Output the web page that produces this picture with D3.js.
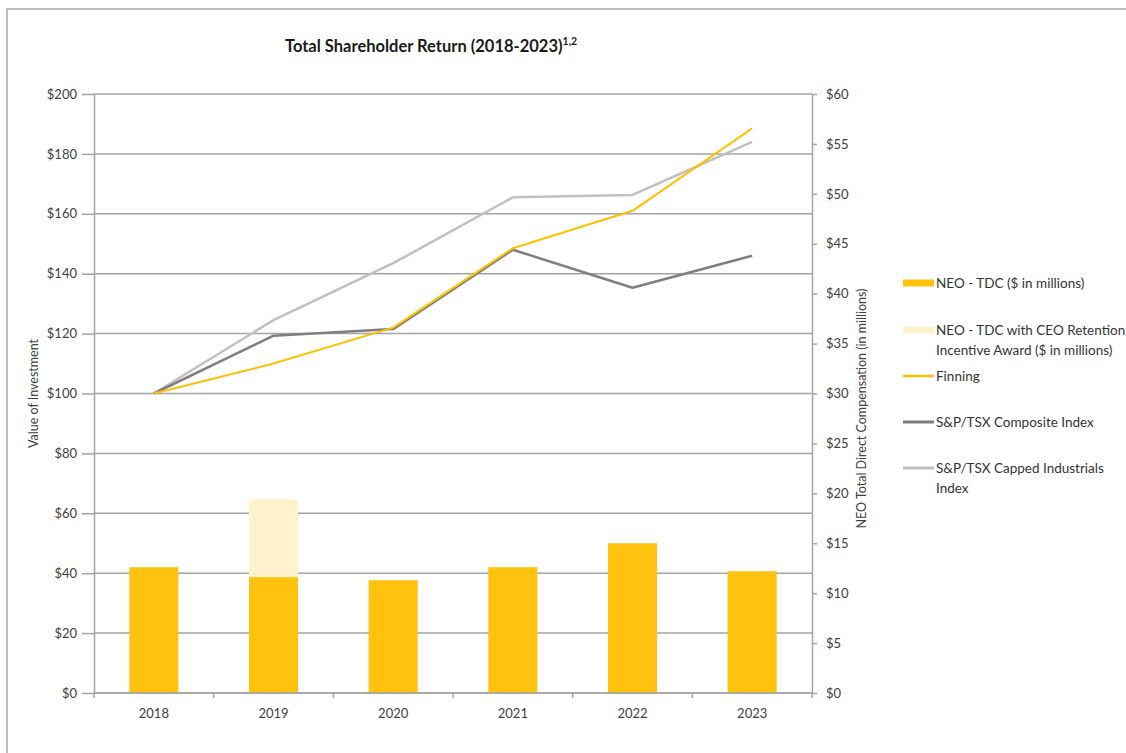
<!DOCTYPE html>
<html>
<head>
<meta charset="utf-8">
<script src="https://cdn.jsdelivr.net/npm/d3@7"></script>
<style>
  html, body { margin: 0; padding: 0; background: #fff; }
  svg { display: block; }
  text { font-family: Lato, "Open Sans", sans-serif; fill: #404040; }
</style>
</head>
<body>
<svg id="chart" width="1126" height="753"></svg>
<script>
// ---- data ----
const years = ["2018", "2019", "2020", "2021", "2022", "2023"];
const finning = [100, 110, 122, 148.5, 161, 188.5];
const composite = [100, 119.3, 121.5, 148, 135.3, 146];
const industrials = [100, 124.5, 143.5, 165.5, 166.3, 184];
const neoTdc = [12.6, 11.6, 11.3, 12.6, 15.0, 12.2];
const neoTdcRetention = [null, 19.4, null, null, null, null];
const leftTicks = [0, 20, 40, 60, 80, 100, 120, 140, 160, 180, 200];
const rightTicks = [0, 5, 10, 15, 20, 25, 30, 35, 40, 45, 50, 55, 60];
const legendLabels = [
  ["NEO - TDC ($ in millions)"],
  ["NEO - TDC with CEO Retention", "Incentive Award ($ in millions)"],
  ["Finning"],
  ["S&P/TSX Composite Index"],
  ["S&P/TSX Capped Industrials", "Index"]
];

// ---- layout ----
const svg = d3.select("#chart");
const L = 94, R = 812, T = 94, B = 693;
const gridColor = "#a3a3a3";
const barColor = "#FFC20E";
const lightBar = "#FFF2CC";
const finColor = "#FFC000";
const compColor = "#7F7F7F";
const indColor = "#C0C0C0";

// frame
svg.append("rect").attr("x", 7).attr("y", 9).attr("width", 1200).attr("height", 800)
  .attr("fill", "none").attr("stroke", "#a9a9a9").attr("stroke-width", 1.5);

const x = d3.scaleBand().domain(years).range([L, R]).paddingInner(0.59).paddingOuter(0.295);
const yL = d3.scaleLinear().domain([0, 200]).range([B, T]);
const yR = d3.scaleLinear().domain([0, 60]).range([B, T]);
const cx = d => x(d) + x.bandwidth() / 2;

// gridlines
svg.append("g").selectAll("line").data(leftTicks).join("line")
  .attr("x1", L).attr("x2", R)
  .attr("y1", d => yL(d)).attr("y2", d => yL(d))
  .attr("stroke", gridColor).attr("stroke-width", 1.5);

// bars: retention (light) first, then main
svg.append("g").selectAll("rect").data(years.map((y, i) => ({ y, v: neoTdcRetention[i] })).filter(d => d.v != null))
  .join("rect")
  .attr("x", d => x(d.y)).attr("width", x.bandwidth())
  .attr("y", d => yR(d.v)).attr("height", d => yR(0) - yR(d.v))
  .attr("fill", lightBar);

svg.append("g").selectAll("rect").data(years.map((y, i) => ({ y, v: neoTdc[i] })))
  .join("rect")
  .attr("x", d => x(d.y)).attr("width", x.bandwidth())
  .attr("y", d => yR(d.v)).attr("height", d => yR(0) - yR(d.v))
  .attr("fill", barColor);

// axes
const leftAxis = svg.append("g").attr("transform", `translate(${L},0)`)
  .call(d3.axisLeft(yL).tickValues(leftTicks).tickSize(12).tickSizeOuter(0).tickPadding(5).tickFormat(d => "$" + d));
const rightAxis = svg.append("g").attr("transform", `translate(${R},0)`)
  .call(d3.axisRight(yR).tickValues(rightTicks).tickSize(5).tickSizeOuter(0).tickPadding(9).tickFormat(d => "$" + d));
const bottomAxis = svg.append("g").attr("transform", `translate(0,${B})`)
  .call(d3.axisBottom(x).tickSize(0).tickPadding(16));

[leftAxis, rightAxis, bottomAxis].forEach(g => {
  g.selectAll("path, line").attr("stroke", gridColor).attr("stroke-width", 1.5);
  g.selectAll("text").style("font-size", "13px").style("fill", "#404040")
    .style("font-family", "Lato, 'Open Sans', sans-serif");
});
bottomAxis.select("path.domain").attr("d", `M${L},0H${R}`);

// category boundary ticks on x-axis
const bounds = years.map(y => cx(y) - x.step() / 2).concat([cx(years[years.length - 1]) + x.step() / 2]);
svg.append("g").selectAll("line").data(bounds).join("line")
  .attr("x1", d => d).attr("x2", d => d)
  .attr("y1", B).attr("y2", B + 5)
  .attr("stroke", gridColor).attr("stroke-width", 1.5);

// lines
const line = d3.line().x((d, i) => cx(years[i])).y(d => yL(d));
[[industrials, indColor, 2.5], [composite, compColor, 2.5], [finning, finColor, 2]].forEach(([data, col, w]) => {
  svg.append("path").datum(data).attr("d", line)
    .attr("fill", "none").attr("stroke", col).attr("stroke-width", w)
    .attr("stroke-linejoin", "round");
});

// titles
const title = svg.append("text").attr("x", 285).attr("y", 52)
  .style("font-size", "16.5px").style("font-weight", "bold").style("fill", "#1a1a1a");
title.append("tspan").text("Total Shareholder Return (2018-2023)");
title.append("tspan").attr("dy", -7).style("font-size", "10.5px").text("1,2");

svg.append("text").attr("transform", `translate(38,${(T + B) / 2}) rotate(-90)`)
  .attr("text-anchor", "middle").style("font-size", "12.5px").text("Value of Investment");
svg.append("text").attr("transform", `translate(866,${(T + B) / 2 + 15}) rotate(-90)`)
  .attr("text-anchor", "middle").style("font-size", "12.5px").text("NEO Total Direct Compensation (in millions)");

// legend
const lg = svg.append("g");
const legendY = [283, 330, 376, 422, 468];
const sw = [
  { type: "rect", color: barColor },
  { type: "rect", color: lightBar },
  { type: "line", color: finColor, w: 2.5 },
  { type: "line", color: compColor, w: 3 },
  { type: "line", color: indColor, w: 3 }
];
legendLabels.forEach((lines, i) => {
  const yy = legendY[i];
  if (sw[i].type === "rect") {
    lg.append("rect").attr("x", 903).attr("y", yy - 3.5).attr("width", 31).attr("height", 7).attr("fill", sw[i].color);
  } else {
    lg.append("line").attr("x1", 903).attr("x2", 934).attr("y1", yy).attr("y2", yy)
      .attr("stroke", sw[i].color).attr("stroke-width", sw[i].w);
  }
  lines.forEach((t, j) => {
    lg.append("text").attr("x", 936).attr("y", yy + 5 + j * 20)
      .style("font-size", "13.5px").style("fill", "#333").text(t);
  });
});
</script>
</body>
</html>
